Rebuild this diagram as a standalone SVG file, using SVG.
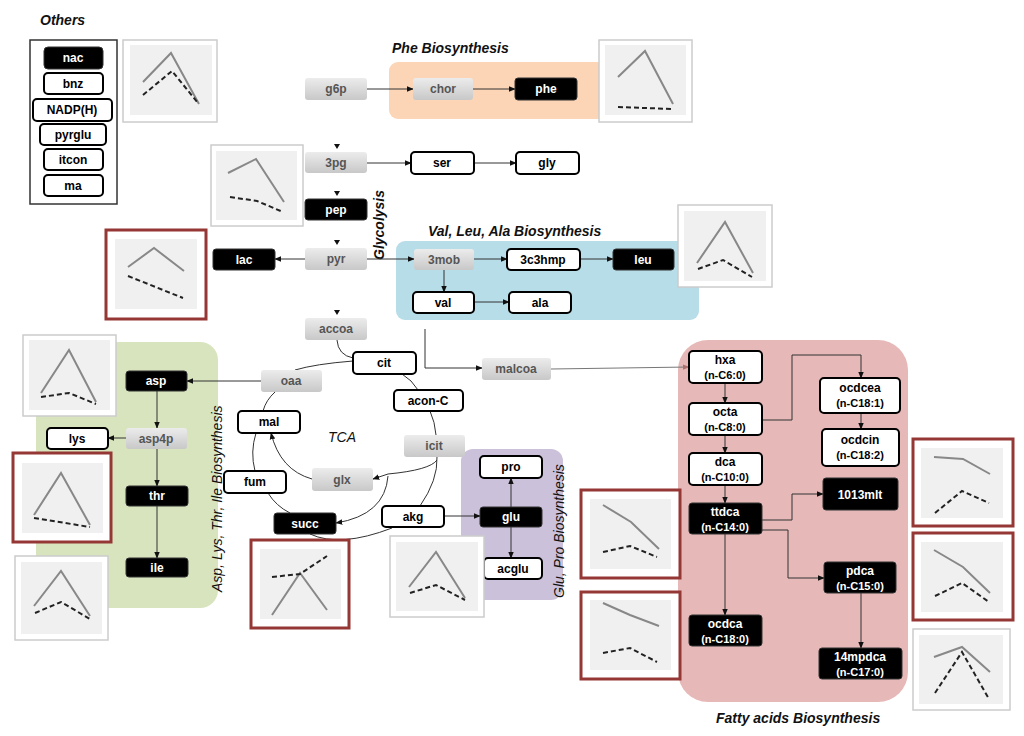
<svg xmlns="http://www.w3.org/2000/svg" width="1024" height="736" viewBox="0 0 1024 736">
<defs>
<linearGradient id="gg" x1="0" y1="0" x2="0" y2="1"><stop offset="0" stop-color="#ececec"/><stop offset="1" stop-color="#c8c8c8"/></linearGradient>
<marker id="ar" viewBox="0 0 10 10" refX="9" refY="5" markerWidth="7" markerHeight="7" orient="auto"><path d="M0,1 L10,5 L0,9 z" fill="#111"/></marker>
<marker id="arp" viewBox="0 0 10 10" refX="9" refY="5" markerWidth="7" markerHeight="7" orient="auto"><path d="M0,1 L10,5 L0,9 z" fill="#b07070"/></marker>
</defs>
<style>
text{font-family:"Liberation Sans",Arial,sans-serif;font-weight:bold;font-size:12px;text-anchor:middle}
.g rect{fill:url(#gg);stroke:none}
.g text{fill:#555}
.b rect{fill:#000;stroke:#333}
.b text{fill:#fff}
.w rect{fill:#fff;stroke:#000;stroke-width:2}
.w text{fill:#000}
.lab{font-style:italic;font-size:14px;text-anchor:start;fill:#111}
.fr{fill:#fff;stroke:#ccc;stroke-width:1.5}
.frr{fill:#fff;stroke:#953735;stroke-width:3}
.pl{fill:#f0f0f0}
.s{fill:none;stroke:#888;stroke-width:2}
.d{fill:none;stroke:#222;stroke-width:2;stroke-dasharray:5,3}
.c line,.c path,.c polyline{fill:none;stroke:#333;stroke-width:1}
.arc{fill:none;stroke:#666;stroke-width:1}
</style>
<!-- regions -->
<rect x="389" y="62" width="220" height="57" rx="9" fill="#fbd5b5"/>
<rect x="396" y="241" width="303" height="79" rx="9" fill="#b7dde8"/>
<rect x="36" y="342" width="182" height="266" rx="18" fill="#d7e4bd"/>
<rect x="461" y="449" width="102" height="151" rx="12" fill="#ccc1da"/>
<rect x="678" y="340" width="230" height="362" rx="30" fill="#e6b9b8"/>
<text class="lab" x="40" y="25">Others</text>
<text class="lab" x="392" y="53">Phe Biosynthesis</text>
<text class="lab" x="428" y="236">Val, Leu, Ala Biosynthesis</text>
<text class="lab" x="716" y="723">Fatty acids Biosynthesis</text>
<text class="lab" x="342" y="442" style="font-weight:normal;text-anchor:middle">TCA</text>
<text class="lab" transform="translate(384,260) rotate(-90)">Glycolysis</text>
<text class="lab" transform="translate(222,592) rotate(-90)" style="font-weight:normal">Asp, Lys, Thr, Ile Biosynthesis</text>
<text class="lab" transform="translate(564,598) rotate(-90)" style="font-weight:normal">Glu, Pro Biosynthesis</text>
<rect x="30" y="40" width="87" height="164" fill="#fff" stroke="#333" stroke-width="1.5"/>
<!-- connectors -->
<g id="connectors" class="c">
<line x1="367" y1="89" x2="413" y2="89" marker-end="url(#ar)"/>
<line x1="473" y1="89" x2="515" y2="89" marker-end="url(#ar)"/>
<line x1="367" y1="163" x2="411" y2="163" marker-end="url(#ar)"/>
<line x1="474" y1="163" x2="516" y2="163" marker-end="url(#ar)"/>
<line x1="305" y1="259" x2="275" y2="259" marker-end="url(#ar)"/>
<line x1="367" y1="259" x2="414" y2="259" marker-end="url(#ar)"/>
<line x1="474" y1="259" x2="507" y2="259" marker-end="url(#ar)"/>
<line x1="580" y1="259" x2="613" y2="259" marker-end="url(#ar)"/>
<line x1="444" y1="270" x2="444" y2="292" marker-end="url(#ar)"/>
<line x1="474" y1="302" x2="509" y2="302" marker-end="url(#ar)"/>
<polyline points="425,329 425,368 482,368" marker-end="url(#ar)"/>
<line x1="551" y1="369" x2="689" y2="367" style="stroke:#777" marker-end="url(#arp)"/>
<path d="M334,144 l6,0 l-3,5 z M334,191 l6,0 l-3,5 z M334,240 l6,0 l-3,5 z M334,310 l6,0 l-3,5 z" style="fill:#111;stroke:none"/>
<line x1="261" y1="381" x2="187" y2="381" marker-end="url(#ar)"/>
<line x1="157" y1="391" x2="157" y2="428" marker-end="url(#ar)"/>
<line x1="126" y1="438" x2="108" y2="438" marker-end="url(#ar)"/>
<line x1="157" y1="449" x2="157" y2="486" marker-end="url(#ar)"/>
<line x1="157" y1="506" x2="157" y2="558" marker-end="url(#ar)"/>
<line x1="444" y1="516" x2="480" y2="516" marker-end="url(#ar)"/>
<line x1="511" y1="507" x2="511" y2="478" marker-end="url(#ar)"/>
<line x1="511" y1="527" x2="511" y2="558" marker-end="url(#ar)"/>
<path class="arc" d="M337,340 Q338,355 353,358"/>
<path class="arc" d="M353,361 Q315,364 295,370"/>
<path class="arc" d="M275,392 Q266,400 263,411"/>
<path class="arc" d="M256,433 Q250,452 255,471"/>
<path class="arc" d="M268,493 Q276,506 290,513"/>
<path class="arc" d="M310,534 Q340,548 392,528"/>
<path class="arc" d="M420,506 Q438,480 437,457"/>
<path class="arc" d="M402,374 Q412,380 418,390"/>
<path class="arc" d="M430,411 Q435,422 436,435"/>
<path d="M437,460 Q430,470 388,474 L373,479" marker-end="url(#ar)"/>
<path d="M312,479 Q280,470 271,433" marker-end="url(#ar)"/>
<path d="M388,476 Q385,515 336,523" marker-end="url(#ar)"/>
<line x1="725" y1="383" x2="725" y2="403" marker-end="url(#ar)"/>
<line x1="725" y1="435" x2="725" y2="453" marker-end="url(#ar)"/>
<line x1="725" y1="485" x2="725" y2="503" marker-end="url(#ar)"/>
<line x1="725" y1="534" x2="725" y2="615" marker-end="url(#ar)"/>
<polyline points="762,420 792,420 792,355 861,355 861,378" marker-end="url(#ar)"/>
<line x1="861" y1="413" x2="861" y2="429" marker-end="url(#ar)"/>
<polyline points="762,520 792,520 792,494 823,494" marker-end="url(#ar)"/>
<polyline points="762,530 788,530 788,578 824,578" marker-end="url(#ar)"/>
<line x1="861" y1="593" x2="861" y2="648" marker-end="url(#ar)"/>
</g>
<!-- nodes -->
<g id="nac" class="b"><rect x="44" y="47" width="59" height="22" rx="4"/><text x="73" y="62">nac</text></g>
<g id="bnz" class="w"><rect x="44" y="73" width="59" height="21" rx="4"/><text x="73" y="88">bnz</text></g>
<g id="nadph" class="w"><rect x="33" y="99" width="79" height="22" rx="4"/><text x="72" y="114">NADP(H)</text></g>
<g id="pyrglu" class="w"><rect x="40" y="124" width="66" height="21" rx="4"/><text x="73" y="139">pyrglu</text></g>
<g id="itcon" class="w"><rect x="44" y="149" width="59" height="21" rx="4"/><text x="73" y="164">itcon</text></g>
<g id="ma" class="w"><rect x="44" y="175" width="59" height="21" rx="4"/><text x="73" y="190">ma</text></g>
<g id="g6p" class="g"><rect x="305" y="78" width="62" height="22" rx="3"/><text x="336" y="93">g6p</text></g>
<g id="chor" class="g"><rect x="413" y="78" width="60" height="22" rx="3"/><text x="443" y="93">chor</text></g>
<g id="phe" class="b"><rect x="515" y="78" width="62" height="22" rx="3"/><text x="546" y="93">phe</text></g>
<g id="3pg" class="g"><rect x="305" y="152" width="62" height="21" rx="3"/><text x="336" y="167">3pg</text></g>
<g id="ser" class="w"><rect x="411" y="152" width="63" height="22" rx="4"/><text x="442" y="167">ser</text></g>
<g id="gly" class="w"><rect x="516" y="152" width="63" height="22" rx="4"/><text x="547" y="167">gly</text></g>
<g id="pep" class="b"><rect x="305" y="199" width="62" height="21" rx="3"/><text x="336" y="214">pep</text></g>
<g id="pyr" class="g"><rect x="305" y="248" width="62" height="22" rx="3"/><text x="336" y="263">pyr</text></g>
<g id="lac" class="b"><rect x="213" y="249" width="62" height="21" rx="3"/><text x="244" y="264">lac</text></g>
<g id="accoa" class="g"><rect x="305" y="318" width="62" height="22" rx="3"/><text x="336" y="333">accoa</text></g>
<g id="3mob" class="g"><rect x="414" y="249" width="60" height="21" rx="3"/><text x="444" y="264">3mob</text></g>
<g id="3c3hmp" class="w"><rect x="507" y="249" width="73" height="21" rx="4"/><text x="543" y="264">3c3hmp</text></g>
<g id="leu" class="b"><rect x="613" y="249" width="61" height="21" rx="3"/><text x="643" y="264">leu</text></g>
<g id="val" class="w"><rect x="413" y="292" width="61" height="21" rx="4"/><text x="443" y="307">val</text></g>
<g id="ala" class="w"><rect x="509" y="292" width="62" height="21" rx="4"/><text x="540" y="307">ala</text></g>
<g id="malcoa" class="g"><rect x="482" y="358" width="69" height="22" rx="3"/><text x="516" y="373">malcoa</text></g>
<g id="cit" class="w"><rect x="353" y="352" width="63" height="22" rx="4"/><text x="384" y="367">cit</text></g>
<g id="oaa" class="g"><rect x="261" y="370" width="61" height="22" rx="3"/><text x="291" y="385">oaa</text></g>
<g id="asp" class="b"><rect x="126" y="371" width="61" height="20" rx="3"/><text x="156" y="385">asp</text></g>
<g id="aconc" class="w"><rect x="394" y="390" width="69" height="21" rx="4"/><text x="428" y="405">acon-C</text></g>
<g id="mal" class="w"><rect x="238" y="411" width="62" height="22" rx="4"/><text x="269" y="426">mal</text></g>
<g id="icit" class="g"><rect x="404" y="435" width="61" height="22" rx="3"/><text x="434" y="450">icit</text></g>
<g id="lys" class="w"><rect x="47" y="428" width="61" height="21" rx="4"/><text x="77" y="443">lys</text></g>
<g id="asp4p" class="g"><rect x="126" y="428" width="61" height="21" rx="3"/><text x="156" y="443">asp4p</text></g>
<g id="glx" class="g"><rect x="312" y="468" width="61" height="23" rx="3"/><text x="342" y="484">glx</text></g>
<g id="fum" class="w"><rect x="224" y="471" width="62" height="22" rx="4"/><text x="255" y="486">fum</text></g>
<g id="pro" class="w"><rect x="480" y="456" width="62" height="22" rx="4"/><text x="511" y="471">pro</text></g>
<g id="thr" class="b"><rect x="126" y="486" width="62" height="20" rx="3"/><text x="157" y="500">thr</text></g>
<g id="succ" class="b"><rect x="274" y="513" width="62" height="21" rx="3"/><text x="305" y="528">succ</text></g>
<g id="akg" class="w"><rect x="382" y="506" width="62" height="21" rx="4"/><text x="413" y="521">akg</text></g>
<g id="glu" class="b"><rect x="480" y="507" width="62" height="20" rx="3"/><text x="511" y="521">glu</text></g>
<g id="acglu" class="w"><rect x="484" y="558" width="58" height="21" rx="4"/><text x="513" y="573">acglu</text></g>
<g id="ile" class="b"><rect x="126" y="558" width="62" height="19" rx="3"/><text x="157" y="572">ile</text></g>
<g id="hxa" class="w"><rect x="689" y="351" width="73" height="32" rx="4"/><text x="725" y="364">hxa</text><text x="725" y="379" style="font-size:11px">(n-C6:0)</text></g>
<g id="octa" class="w"><rect x="689" y="403" width="73" height="32" rx="4"/><text x="725" y="416">octa</text><text x="725" y="431" style="font-size:11px">(n-C8:0)</text></g>
<g id="dca" class="w"><rect x="689" y="453" width="73" height="32" rx="4"/><text x="725" y="466">dca</text><text x="725" y="481" style="font-size:11px">(n-C10:0)</text></g>
<g id="ttdca" class="b"><rect x="689" y="503" width="73" height="31" rx="3"/><text x="725" y="516">ttdca</text><text x="725" y="531" style="font-size:11px">(n-C14:0)</text></g>
<g id="ocdca" class="b"><rect x="689" y="615" width="73" height="31" rx="3"/><text x="725" y="628">ocdca</text><text x="725" y="643" style="font-size:11px">(n-C18:0)</text></g>
<g id="ocdcea" class="w"><rect x="820" y="378" width="80" height="35" rx="4"/><text x="860" y="392">ocdcea</text><text x="860" y="407" style="font-size:11px">(n-C18:1)</text></g>
<g id="ocdcin" class="w"><rect x="822" y="429" width="77" height="37" rx="4"/><text x="860" y="444">ocdcin</text><text x="860" y="459" style="font-size:11px">(n-C18:2)</text></g>
<g id="mlt" class="b"><rect x="823" y="478" width="75" height="32" rx="3"/><text x="860" y="499">1013mlt</text></g>
<g id="pdca" class="b"><rect x="824" y="562" width="72" height="31" rx="3"/><text x="860" y="575">pdca</text><text x="860" y="590" style="font-size:11px">(n-C15:0)</text></g>
<g id="mpdca" class="b"><rect x="819" y="648" width="83" height="31" rx="3"/><text x="860" y="661">14mpdca</text><text x="860" y="676" style="font-size:11px">(n-C17:0)</text></g>
<!-- charts -->
<g id="ch1"><rect class="fr" x="123" y="40" width="94" height="82"/><rect class="pl" x="130" y="45" width="82" height="70"/><polyline class="s" points="143,82 171,53 199,104"/><polyline class="d" points="143,95 172,71 198,103"/></g>
<g id="ch2"><rect class="fr" x="211" y="145" width="92" height="81"/><rect class="pl" x="216" y="151" width="81" height="69"/><polyline class="s" points="228,173 256,159 284,202"/><polyline class="d" points="230,197 257,201 283,212"/></g>
<g id="ch3"><rect class="frr" x="106" y="230" width="100" height="89"/><rect class="pl" x="115" y="239" width="82" height="70"/><polyline class="s" points="128,267 154,248 184,271"/><polyline class="d" points="128,276 183,298"/></g>
<g id="ch4"><rect class="fr" x="599" y="40" width="93" height="82"/><rect class="pl" x="605" y="45" width="81" height="70"/><polyline class="s" points="618,77 645,51 673,104"/><polyline class="d" points="618,107 672,109"/></g>
<g id="ch5"><rect class="fr" x="678" y="205" width="94" height="82"/><rect class="pl" x="684" y="211" width="82" height="70"/><polyline class="s" points="697,263 725,222 753,273"/><polyline class="d" points="698,269 723,260 752,277"/></g>
<g id="ch6"><rect class="fr" x="23" y="335" width="93" height="81"/><rect class="pl" x="29" y="340" width="81" height="70"/><polyline class="s" points="41,393 69,350 96,402"/><polyline class="d" points="41,397 69,393 96,404"/></g>
<g id="ch7"><rect class="frr" x="13" y="453" width="98" height="89"/><rect class="pl" x="22" y="463" width="81" height="70"/><polyline class="s" points="34,515 61,473 90,525"/><polyline class="d" points="34,518 90,527"/></g>
<g id="ch8"><rect class="fr" x="15" y="556" width="93" height="84"/><rect class="pl" x="21" y="562" width="81" height="72"/><polyline class="s" points="34,606 61,571 90,616"/><polyline class="d" points="35,613 61,602 90,619"/></g>
<g id="ch9"><rect class="frr" x="251" y="540" width="98" height="88"/><rect class="pl" x="260" y="549" width="81" height="70"/><polyline class="s" points="272,615 300,573 327,610"/><polyline class="d" points="272,577 300,574 327,556"/></g>
<g id="ch10"><rect class="fr" x="390" y="536" width="94" height="81"/><rect class="pl" x="396" y="542" width="82" height="69"/><polyline class="s" points="409,587 436,552 465,598"/><polyline class="d" points="410,593 436,585 465,600"/></g>
<g id="ch11"><rect class="frr" x="581" y="490" width="99" height="88"/><rect class="pl" x="590" y="499" width="81" height="70"/><polyline class="s" points="603,505 631,522 659,549"/><polyline class="d" points="603,552 630,546 657,557"/></g>
<g id="ch12"><rect class="frr" x="581" y="592" width="99" height="87"/><rect class="pl" x="590" y="600" width="81" height="70"/><polyline class="s" points="603,603 630,615 659,626"/><polyline class="d" points="603,653 630,648 657,662"/></g>
<g id="ch13"><rect class="frr" x="913" y="439" width="100" height="87"/><rect class="pl" x="921" y="448" width="82" height="70"/><polyline class="s" points="934,457 963,459 990,474"/><polyline class="d" points="935,513 962,491 989,503"/></g>
<g id="ch14"><rect class="frr" x="913" y="533" width="100" height="87"/><rect class="pl" x="921" y="542" width="82" height="70"/><polyline class="s" points="934,550 963,567 990,593"/><polyline class="d" points="935,596 962,583 989,602"/></g>
<g id="ch15"><rect class="fr" x="913" y="629" width="97" height="81"/><rect class="pl" x="919" y="635" width="84" height="69"/><polyline class="s" points="934,657 962,647 990,672"/><polyline class="d" points="935,693 962,652 989,699"/></g>
</svg>
